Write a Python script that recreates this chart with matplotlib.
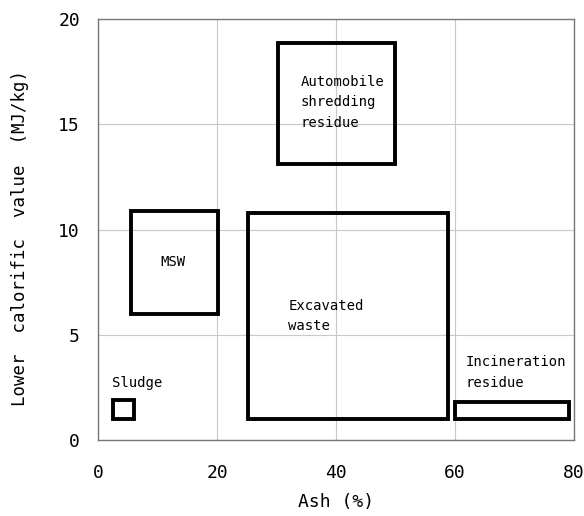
# Lower calorific value vs ash content, boxes per waste type

import matplotlib
matplotlib.use('Agg')
import matplotlib.pyplot as plt
from matplotlib.patches import Rectangle

# data: ranges (ash %, MJ/kg)
names = ['Sludge', 'MSW', 'Excavated waste', 'Automobile shredding residue', 'Incineration residue']
ash_lo = [2.5, 5.5, 25.2, 30.3, 60.0]
ash_hi = [6.0, 20.1, 58.8, 49.9, 79.2]
lcv_lo = [1.0, 6.0, 1.0, 13.1, 1.0]
lcv_hi = [1.9, 10.9, 10.8, 18.85, 1.8]

# label texts and anchor points
labels = ['Sludge', 'MSW', 'Excavated\nwaste', 'Automobile\nshredding\nresidue', 'Incineration\nresidue']
lab_x = [2.4, 10.5, 32.0, 34.0, 61.8]
lab_y = [2.7, 8.45, 5.9, 16.05, 3.2]

xticks = [0, 20, 40, 60, 80]
yticks = [0, 5, 10, 15, 20]

plt.rcParams['font.family'] = ['DejaVu Sans Mono']

fig = plt.figure(figsize=(5.84, 5.16), dpi=100)
ax = fig.add_axes([0.168, 0.147, 0.815, 0.816])

for i in range(len(names)):
    r = Rectangle((ash_lo[i], lcv_lo[i]), ash_hi[i] - ash_lo[i], lcv_hi[i] - lcv_lo[i],
                  fill=False, edgecolor='black', linewidth=2.8, zorder=3)
    ax.add_patch(r)
    ax.text(lab_x[i], lab_y[i], labels[i], fontsize=10, ha='left', va='center',
            linespacing=1.6, zorder=4)

ax.set_xlim(0, 80)
ax.set_ylim(0, 20)
ax.set_xticks(xticks)
ax.set_yticks(yticks)
ax.tick_params(length=0, labelsize=13)
ax.tick_params(axis='x', pad=17)
ax.tick_params(axis='y', pad=13)
ax.grid(True, color='#c8c8c8', linewidth=0.8)
ax.set_axisbelow(True)
for s in ax.spines.values():
    s.set_color('#777777')
    s.set_linewidth(1.0)

ax.set_xlabel('Ash (%)', fontsize=13, labelpad=8)
ax.set_ylabel('Lower  calorific  value  (MJ/kg)', fontsize=12.5)
ax.yaxis.set_label_coords(-0.145, 0.48)

fig.savefig('out.png', dpi=100)
